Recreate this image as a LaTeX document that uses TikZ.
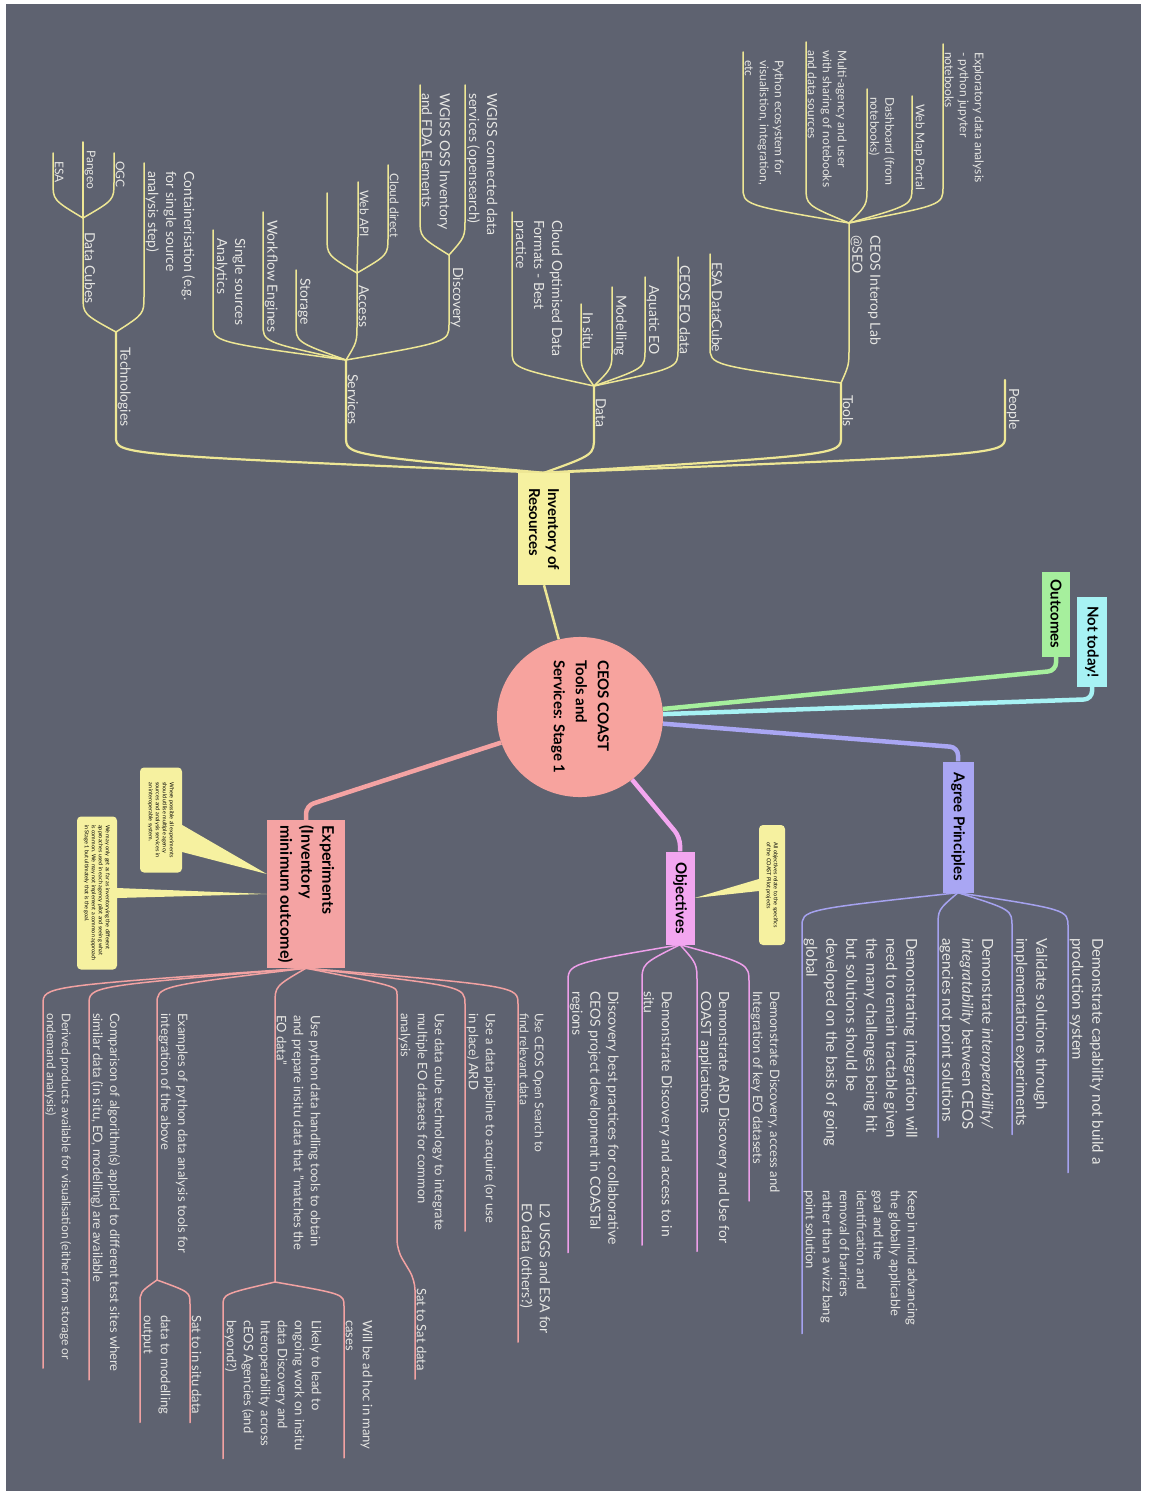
\documentclass[tikz,border=0pt]{standalone}
\usepackage{fontspec}
\setmainfont{Lato}
\usepackage{tikz}
\usetikzlibrary{shapes.geometric,backgrounds}

\definecolor{slate}{HTML}{5E6270}
\definecolor{txt}{HTML}{E6E6E3}
\definecolor{yel}{HTML}{F6F1A0}
\definecolor{yelline}{HTML}{EEE795}
\definecolor{salmon}{HTML}{F7A39E}
\definecolor{rose}{HTML}{F4A3A3}
\definecolor{roseline}{HTML}{F2A2A2}
\definecolor{orchid}{HTML}{F3A6F0}
\definecolor{orchidline}{HTML}{EE9FEA}
\definecolor{lilac}{HTML}{A9A6F3}
\definecolor{lilacline}{HTML}{A5A2EF}
\definecolor{mint}{HTML}{A6EF9D}
\definecolor{aqua}{HTML}{A7F2F4}

\tikzset{
  lbl/.style={rotate=-90, anchor=south west, inner xsep=8pt, inner ysep=1.5pt,
    align=left, text=txt, font=\fontsize{14}{18}\selectfont},
  lbls/.style={lbl, font=\fontsize{12}{15}\selectfont},
  lblm/.style={lbl, font=\fontsize{13}{17}\selectfont},
  lblb/.style={lbl, font=\fontsize{15}{20}\selectfont},
  topic/.style={rotate=-90, align=left, inner sep=3pt, text=black,
    font=\bfseries\fontsize{15}{19}\selectfont},
  note/.style={rotate=-90, fill=yel, rounded corners=4pt, align=left,
    inner sep=3pt, text=black, font=\fontsize{5.5}{7}\selectfont},
  twig/.style={to path={.. controls ([yshift=#1]\tikztostart -| \tikztotarget)
    .. ([yshift=2*#1]\tikztostart -| \tikztotarget) -- (\tikztotarget)}},
  twig/.default=18pt,
  yl0/.style={draw=yelline, line width=2.2pt, line cap=round},
  yl/.style={draw=yelline, line width=1.5pt, line cap=round},
  pl/.style={draw=lilacline, line width=1.5pt, line cap=round},
  ol/.style={draw=orchidline, line width=1.5pt, line cap=round},
  rl/.style={draw=roseline, line width=1.5pt, line cap=round},
  stem/.style={line width=4.5pt, rounded corners=8pt}
}

\begin{document}
\begin{tikzpicture}[x=1pt, y=-1pt]
  \useasboundingbox (0,0) rectangle (1148,1498);

  % centre and main topics
  \node[ellipse, fill=salmon, rotate=-90, minimum width=160pt, minimum height=166pt,
    inner sep=0pt, align=left, font=\bfseries\fontsize{15}{22}\selectfont]
    (coast) at (580,717) {CEOS COAST\\Tools and\\Services: Stage 1};
  \node[topic, fill=yel, minimum width=112pt, minimum height=52pt] (inv) at (544,529)
    {Inventory of\\Resources};
  \node[topic, fill=mint, minimum width=85pt, minimum height=28pt] (outc) at (1056,614)
    {Outcomes};
  \node[topic, fill=aqua, minimum width=90pt, minimum height=30pt] (nott) at (1092,642)
    {Not today!};
  \node[topic, fill=lilac, minimum width=131pt, minimum height=31pt] (agree) at (958,827)
    {Agree Principles};
  \node[topic, fill=orchid, minimum width=93pt, minimum height=29pt] (obj) at (680,898)
    {Objectives};
  \node[topic, fill=rose, minimum width=148pt, minimum height=78pt,
    font=\bfseries\fontsize{16}{21}\selectfont] (exp) at (306,894)
    {Experiments\\(Inventory\\minimum outcome)};

  % notes
  \node[note, minimum width=120pt, minimum height=26pt] (objnote) at (772,885)
    {All objectives relate to the specifics\\of the COAST Pilot projects};
  \node[note, minimum width=105pt, minimum height=42pt] (expnote) at (161,820)
    {Where possible all experiments\\should utilise multiple agency\\sources and analysis services in\\an interoperable system.};
  \node[note, minimum width=153pt, minimum height=40pt] (goalnote) at (97,893)
    {We may only get as far as inventorying the different\\approaches used in each agency pilot and seeing what\\is common. We may not implement a common approach\\in Stage 1 but ultimately that is the goal.};

  % technologies
  \node[lbl] (tech) at (116,339) {Technologies};
  \coordinate (techfork) at (116,332);
  \node[lbl] (cubes) at (83,224) {Data Cubes};
  \coordinate (cubefork) at (83,218);
  \node[lbls] (esa) at (53,153) {ESA};
  \node[lbls] (pangeo) at (83,142) {Pangeo};
  \node[lbls] (ogc) at (114,153) {OGC};
  \node[lbl] (contain) at (144,163) {Containerisation (e.g.\\for single source\\analysis step)};

  % services
  \node[lbl] (serv) at (346,366) {Services};
  \coordinate (servfork) at (346,360);
  \node[lbl] (single) at (213,230) {Single sources\\Analytics};
  \node[lbl] (flow) at (263,212) {Workflow Engines};
  \node[lbl] (store) at (296,270) {Storage};
  \node[lbl] (access) at (357,277) {Access};
  \coordinate (accfork) at (357,273);
  \coordinate (accnone) at (327,193);
  \node[lbls] (webapi) at (358,182) {Web API};
  \node[lbls] (cloud) at (388,165) {Cloud direct};
  \node[lbl] (disc) at (449,259) {Discovery};
  \coordinate (discfork) at (449,255);
  \node[lbl] (oss) at (420,85) {WGISS OSS Inventory\\and FDA Elements};
  \node[lbl] (opens) at (465,85) {WGISS connected data\\services (opensearch)};

  % data
  \node[lbl] (data) at (594,390) {Data};
  \coordinate (datafork) at (594,386);
  \node[lbl] (cog) at (512,212) {Cloud Optimised Data\\Formats - Best\\practice};
  \node[lbl] (insitu) at (581,304) {In situ};
  \node[lbl] (model) at (612,287) {Modelling};
  \node[lbl] (aquatic) at (645,277) {Aquatic EO};
  \node[lbl] (ceoseo) at (678,257) {CEOS EO data};

  % tools
  \node[lbl] (tools) at (841,387) {Tools};
  \coordinate (toolfork) at (841,383);
  \node[lbl] (esadc) at (710,254) {ESA DataCube};
  \node[lbl] (lab) at (849,227) {CEOS Interop Lab\\@SEO};
  \coordinate (labfork) at (849,223);
  \node[lbls] (pyeco) at (743,52) {Python ecosystem for\\visualistion, integration,\\etc};
  \node[lbls] (multi) at (806,42) {Multi-agency and user\\with sharing of notebooks\\and data sources};
  \node[lbls] (dash) at (867,89) {Dashboard (from\\notebooks)};
  \node[lbls] (webmap) at (912,96) {Web Map Portal};
  \node[lbls] (explore) at (943,44) {Exploratory data analysis\\- python jupyter\\notebooks};

  % people
  \node[lbl] (people) at (1005,380) {People};

  % principles
  \node[lblb] (capab) at (1068,930) {Demonstrate capability not build a\\production system};
  \node[lblb] (valid) at (1012,930) {Validate solutions through\\implementation experiments};
  \node[lblb] (interop) at (938,930) {Demonstrate \textit{interoperability/}\\\textit{integratability} between CEOS\\agencies not point solutions};
  \node[lblb] (tract) at (802,930) {Demonstrating integration will\\need to remain tractable given\\the many challenges being hit\\but solutions should be\\developed on the basis of going\\global};
  \node[lblm] (mind) at (802,1182) {Keep in mind advancing\\the globally applicable\\goal and the\\identification and\\removal of barriers\\rather than a wizz bang\\point solution};

  % objectives
  \node[lblm] (odisc) at (749,983) {Demonstrate Discovery, access and\\Integration of key EO datasets};
  \node[lbl] (oard) at (697,983) {Demonstrate ARD Discovery and Use for\\COAST applications};
  \node[lbl] (ositu) at (642,983) {Demonstrate Discovery and access to in\\situ};
  \node[lbl] (obest) at (568,983) {Discovery best practices for collaborative\\CEOS project development in COASTal\\regions};

  % experiments
  \node[lbls] (search) at (518,1005) {Use CEOS Open Search to\\find relevant data};
  \node[lbl] (l2) at (518,1195) {L2 USGS and ESA for\\EO data (others?)};
  \node[lblm] (pipe) at (465,1005) {Use a data pipeline to acquire (or use\\in place) ARD};
  \node[lblm] (cube) at (397,1005) {Use data cube technology to integrate\\multiple EO datasets for common\\analysis};
  \node[lblm] (sat2sat) at (415,1280) {Sat to Sat data};
  \node[lblm] (pyget) at (275,1007) {Use python data handling tools to obtain\\and prepare insitu data that "matches the\\EO data"};
  \coordinate (pyfork) at (275,1282);
  \node[lblm] (adhoc) at (344,1312) {Will be ad hoc in many\\cases};
  \node[lblm] (likely) at (223,1312) {Likely to lead to\\ongoing work on insitu\\data Discovery and\\Interoperability across\\cEOS Agencies (and\\beyond?)};
  \node[lblm] (pyeg) at (157,1005) {Examples of python data analysis tools for\\integration of the above};
  \coordinate (egfork) at (157,1280);
  \node[lblm] (sat2situ) at (190,1307) {Sat to in situ data};
  \node[lblm] (data2mod) at (140,1307) {data to modelling\\output};
  \node[lblm] (compare) at (89,1005) {Comparison of algorithm(s) applied to different test sites where\\similar data (in situ, EO, modelling) are available};
  \node[lbls] (derived) at (43,1005) {Derived products available for visualisation (either from storage or\\ondemand analysis)};

  \begin{scope}[on background layer]
    % board
    \fill[white] (0,0) rectangle (1148,1498);
    \fill[slate] (6,4) rectangle (1141,1491);

    % stems from the centre
    \draw[line width=2.5pt, yelline] (inv.east) -- (coast);
    \draw[stem, mint] (coast) -- ([yshift=-14pt]outc.east) -- (outc.east);
    \draw[stem, aqua] (coast) -- ([yshift=-12pt]nott.east) -- (nott.east);
    \draw[stem, lilac] (coast) -- ([yshift=14pt]agree.west) -- (agree.west);
    \draw[stem, orchid] (coast) -- ([yshift=14pt]obj.west) -- (obj.west);
    \draw[stem, rose] (coast) -- ([yshift=14pt]exp.west) -- (exp.west);

    % note pointers
    \fill[yel] ([yshift=6pt]objnote.south) -- (obj.north) -- ([yshift=-6pt]objnote.south) -- cycle;
    \fill[yel] ([yshift=-5pt]expnote.north) -- ([yshift=20pt]exp.south) -- ([yshift=-32pt]expnote.north) -- cycle;
    \fill[yel] ([yshift=5pt]goalnote.north) -- (exp.south) -- ([yshift=-5pt]goalnote.north) -- cycle;

    % yellow tree
    \draw[yl0] (inv.west) to[twig] (tech.south west) -- (techfork);
    \draw[yl0] (inv.west) to[twig] (serv.south west) -- (servfork);
    \draw[yl0] (inv.west) to[twig] (data.south west) -- (datafork);
    \draw[yl0] (inv.west) to[twig] (tools.south west) -- (toolfork);
    \draw[yl0] (inv.west) to[twig] (people.south west);

    \draw[yl] (techfork) to[twig] (cubes.south west) -- (cubefork);
    \draw[yl] (techfork) to[twig] (contain.south west);
    \draw[yl] (cubefork) to[twig] (esa.south west);
    \draw[yl] (cubefork) to[twig] (pangeo.south west);
    \draw[yl] (cubefork) to[twig] (ogc.south west);

    \draw[yl] (servfork) to[twig] (single.south west);
    \draw[yl] (servfork) to[twig] (flow.south west);
    \draw[yl] (servfork) to[twig] (store.south west);
    \draw[yl] (servfork) to[twig] (access.south west) -- (accfork);
    \draw[yl] (servfork) to[twig] (disc.south west) -- (discfork);
    \draw[yl] (accfork) to[twig] (accnone);
    \draw[yl] (accfork) to[twig] (webapi.south west);
    \draw[yl] (accfork) to[twig] (cloud.south west);
    \draw[yl] (discfork) to[twig] (oss.south west);
    \draw[yl] (discfork) to[twig] (opens.south west);

    \draw[yl] (datafork) to[twig] (cog.south west);
    \draw[yl] (datafork) to[twig] (insitu.south west);
    \draw[yl] (datafork) to[twig] (model.south west);
    \draw[yl] (datafork) to[twig] (aquatic.south west);
    \draw[yl] (datafork) to[twig] (ceoseo.south west);

    \draw[yl] (toolfork) to[twig] (esadc.south west);
    \draw[yl] (toolfork) to[twig] (lab.south west) -- (labfork);
    \draw[yl] (labfork) to[twig] (pyeco.south west);
    \draw[yl] (labfork) to[twig] (multi.south west);
    \draw[yl] (labfork) to[twig] (dash.south west);
    \draw[yl] (labfork) to[twig] (webmap.south west);
    \draw[yl] (labfork) to[twig] (explore.south west);

    % principles
    \draw[pl] (agree.east) to[twig=-17pt] (capab.south west) -- (capab.south east);
    \draw[pl] (agree.east) to[twig=-17pt] (valid.south west) -- (valid.south east);
    \draw[pl] (agree.east) to[twig=-17pt] (interop.south west) -- (interop.south east);
    \draw[pl] (agree.east) to[twig=-17pt] (tract.south west) -- (mind.south east);

    % objectives
    \draw[ol] (obj.east) to[twig=-19pt] (odisc.south west) -- (odisc.south east);
    \draw[ol] (obj.east) to[twig=-19pt] (oard.south west) -- (oard.south east);
    \draw[ol] (obj.east) to[twig=-19pt] (ositu.south west) -- (ositu.south east);
    \draw[ol] (obj.east) to[twig=-19pt] (obest.south west) -- (obest.south east);

    % experiments
    \draw[rl] (exp.east) to[twig=-18pt] (search.south west) -- (l2.south east);
    \draw[rl] (exp.east) to[twig=-18pt] (pipe.south west) -- (pipe.south east);
    \draw[rl, rounded corners=10pt] (exp.east) to[twig=-18pt] (cube.south west)
      -- ([yshift=30pt]sat2sat.south west -| cube.south west) -- (sat2sat.south west)
      -- (sat2sat.south east);
    \draw[rl] (exp.east) to[twig=-18pt] (pyget.south west) -- (pyfork);
    \draw[rl] (pyfork) to[twig=-12pt] (adhoc.south west) -- (adhoc.south east);
    \draw[rl] (pyfork) to[twig=-12pt] (likely.south west) -- (likely.south east);
    \draw[rl] (exp.east) to[twig=-18pt] (pyeg.south west) -- (egfork);
    \draw[rl] (egfork) to[twig=-12pt] (sat2situ.south west) -- (sat2situ.south east);
    \draw[rl] (egfork) to[twig=-12pt] (data2mod.south west) -- (data2mod.south east);
    \draw[rl] (exp.east) to[twig=-18pt] (compare.south west) -- (compare.south east);
    \draw[rl] (exp.east) to[twig=-18pt] (derived.south west) -- (derived.south east);
  \end{scope}
\end{tikzpicture}
\end{document}
